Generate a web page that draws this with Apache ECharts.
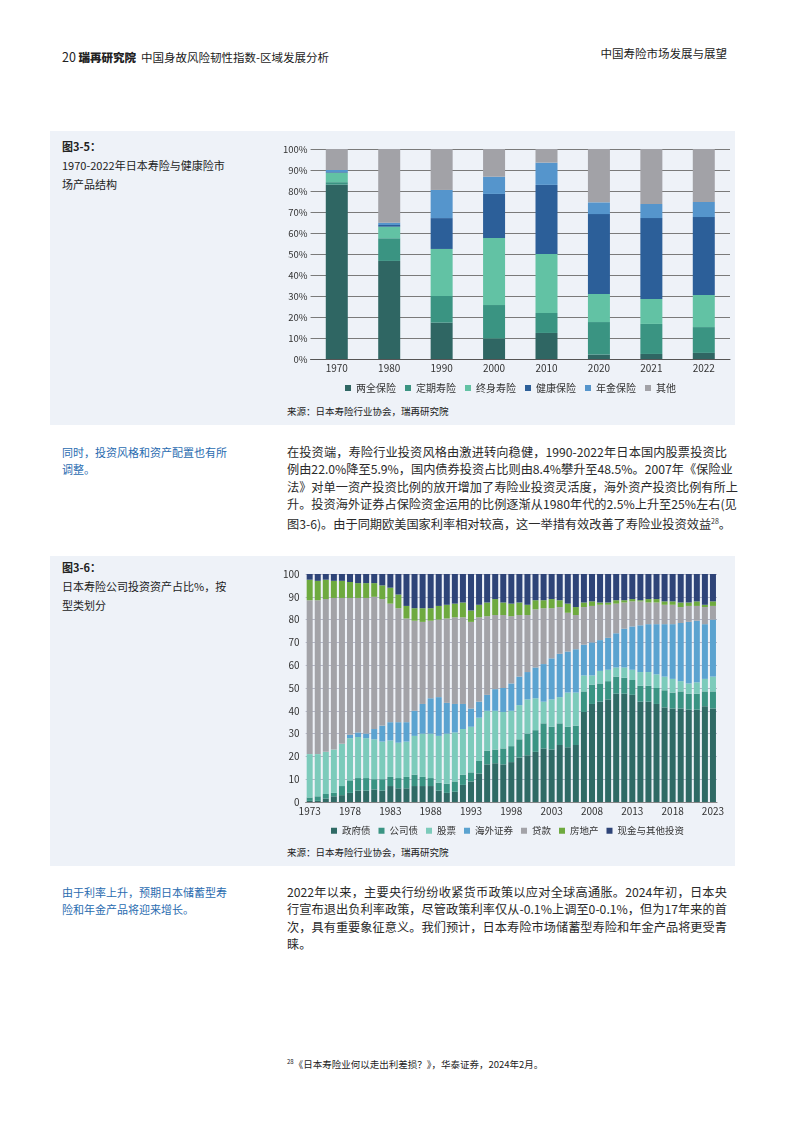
<!DOCTYPE html>
<html><head><meta charset="utf-8">
<script src="https://cdn.jsdelivr.net/npm/echarts@6/dist/echarts.min.js"></script>
<style>
body{margin:0;background:#fff;font-family:"Noto Sans CJK SC","Noto Sans",sans-serif;color:#333;}
#page{position:relative;width:793px;height:1122px;overflow:hidden;}
.abs{position:absolute;white-space:nowrap;}
.panel{position:absolute;left:50px;width:685px;background:#eef2f8;}
.hdr{font-size:11.5px;color:#222;}
.side{font-size:11px;color:#2a6cb0;line-height:17.3px;}
.ttl{font-size:11px;color:#222;line-height:19px;}
.body{position:absolute;left:287px;width:440px;font-size:12.2px;line-height:17.3px;color:#2a2a2a;}
.body div{text-align:justify;text-align-last:justify;white-space:nowrap;}
.body div.last{text-align-last:left;}
.src{font-size:9.5px;color:#222;}
</style></head>
<body><div id="page">
<div class="abs hdr" style="left:62px;top:47px;"><span style="font-size:12.5px">20</span> <b style="font-weight:900">瑞再研究院</b>&nbsp; 中国身故风险韧性指数-区域发展分析</div>
<div class="abs hdr" style="right:66px;top:45px;">中国寿险市场发展与展望</div>

<div class="panel" style="top:131px;height:294px;"></div>
<div class="abs ttl" style="left:62px;top:137px;"><b>图3-5：</b><br>1970-2022年日本寿险与健康险市<br>场产品结构</div>
<div id="c1" class="abs" style="left:280px;top:135px;width:455px;height:265px;"></div>
<div class="abs src" style="left:287px;top:404px;">来源：日本寿险行业协会，瑞再研究院</div>

<div class="abs side" style="left:62px;top:444px;">同时，投资风格和资产配置也有所<br>调整。</div>
<div class="body" style="top:444px;">
<div>在投资端，寿险行业投资风格由激进转向稳健，1990-2022年日本国内股票投资比</div>
<div>例由22.0%降至5.9%，国内债券投资占比则由8.4%攀升至48.5%。2007年《保险业</div>
<div>法》对单一资产投资比例的放开增加了寿险业投资灵活度，海外资产投资比例有所上</div>
<div>升。投资海外证券占保险资金运用的比例逐渐从1980年代的2.5%上升至25%左右(见</div>
<div class="last">图3-6)。由于同期欧美国家利率相对较高，这一举措有效改善了寿险业投资效益<sup style="font-size:7px">28</sup>。</div>
</div>

<div class="panel" style="top:556px;height:310px;"></div>
<div class="abs ttl" style="left:62px;top:558px;"><b>图3-6：</b><br>日本寿险公司投资资产占比%，按<br>型类划分</div>
<div id="c2" class="abs" style="left:280px;top:560px;width:455px;height:280px;"></div>
<div class="abs src" style="left:287px;top:845px;">来源：日本寿险行业协会，瑞再研究院</div>

<div class="abs side" style="left:62px;top:884px;">由于利率上升，预期日本储蓄型寿<br>险和年金产品将迎来增长。</div>
<div class="body" style="top:884px;">
<div>2022年以来，主要央行纷纷收紧货币政策以应对全球高通胀。2024年初，日本央</div>
<div>行宣布退出负利率政策，尽管政策利率仅从-0.1%上调至0-0.1%，但为17年来的首</div>
<div>次，具有重要象征意义。我们预计，日本寿险市场储蓄型寿险和年金产品将更受青</div>
<div class="last">睐。</div>
</div>

<div class="abs" style="left:287px;top:1057px;font-size:9.5px;color:#222;"><sup style="font-size:6px">28</sup>《日本寿险业何以走出利差损？》，华泰证券，2024年2月。</div>
</div>

<script>
// ---- Figure 3-5 data (%)
const years1 = ['1970','1980','1990','2000','2010','2020','2021','2022'];
const endowment = [83.0, 46.7, 17.3, 9.7, 12.4, 2.1, 2.4, 2.9];
const termLife  = [1.2, 10.8, 12.7, 16.0, 9.5, 15.5, 14.3, 12.3];
const wholeLife = [4.5, 5.5, 22.4, 31.9, 28.1, 13.4, 11.9, 15.3];
const health    = [0.3, 0.8, 14.7, 21.0, 32.9, 38.0, 38.5, 37.1];
const annuity   = [1.0, 1.1, 13.4, 8.2, 10.6, 5.6, 6.7, 7.2];
const others1   = [10.0, 35.1, 19.5, 13.2, 6.5, 25.4, 26.2, 25.2];
const names1 = ['两全保险','定期寿险','终身寿险','健康保险','年金保险','其他'];
const yTicks1 = ['0%','10%','20%','30%','40%','50%','60%','70%','80%','90%','100%'];

// ---- Figure 3-6 data (%)
const years2 = [];
for (let y = 1973; y <= 2023; y++) years2.push(String(y));
const govBonds = [0.5,0.5,1.5,2.5,3,4,5,5,5.5,5,7,6,6,7,7,7,5,4,4.5,7.5,9,12.5,16.5,17,16.5,17.5,19.5,20.5,22,23.5,23,25,24,25,39.5,43,44,45,47.5,47.5,47,44,44,43,41.5,41,41,40.5,40.5,42,41];
const corpBonds = [1.5,2,2,1.5,4,5.5,5.5,5.5,4.5,5,4,4.5,5,5,4,3.5,3.5,4,4.5,4.5,4,5.5,6,6,7,7,8,9.5,9.5,11,10,9.5,9,8.5,9,8.5,8,8,7.5,7,6.5,7,7,7,7.5,7,7.5,7,7,6.5,7.5];
const stocks = [19,18.5,18.5,19,18.5,18.5,18,17.5,17.5,16.5,16,15.5,15.5,17,19,19.5,20.5,22,21.5,20,20,19,17.5,17,16,15.5,15,15,14,9.5,12,11.5,15,14.5,7,4,5.5,5,4,4.5,4.5,6,6,6,6,6,4.5,4.5,5,5.5,6.5];
const foreignSec = [0,0,0,0,0,1.5,2,2,4.5,7,8,9,8.5,11,13,15.5,17,13.5,12.5,11,8,7,7,9.5,10.5,12,12.5,12,13.5,16.5,18,19,18,19,13.5,14.5,13.5,14,15,17,19,20.5,21,22,23,24,25.5,27,27,24,25];
const loans = [67.5,67.5,67,66.5,64,60,59,59.5,58,55.5,52,50,45.5,39.5,36,34,34,37,38,38,38,37,34.5,32.5,32,29.5,27,25,25.5,24.5,22,20.5,17,15,16.5,16,15.5,14.5,13,11.5,11,10.5,9.5,9.5,8.5,8.5,7,7,6.5,7.5,6];
const realEstate = [9,8.5,8.5,7.5,7.5,7,6.5,6.5,6,6,7,6,5.5,5.5,6,5.5,6,6,6,6.5,5,5.5,6,7,5.5,5.5,5.5,4.5,4,3.5,4,3,4,3.5,2,2,1,1,1.5,1,1,0.5,1.5,1.5,1.5,1.5,2,1.5,2,1,2];
const cashOther = [2.5,3,2.5,3,3,3.5,4,4,4,5,6,9,14,15,15,15,14,13.5,13,12.5,16,13.5,12.5,11,12.5,13,12.5,13.5,11.5,11.5,11,11.5,13,14.5,12.5,12,12.5,12.5,11.5,11.5,11,11.5,11,11,12,12,12.5,12.5,12,13.5,12];
const names2 = ['政府债','公司债','股票','海外证券','贷款','房地产','现金与其他投资'];

const font = '"Noto Sans CJK SC","Noto Sans",sans-serif';
const colors1 = ['#2f6663','#3a9482','#62c2a4','#2c5f99','#5595cc','#a2a2a7'];
const colors2 = ['#2f6a65','#3a9483','#7ccbbb','#5ba3d0','#a3a3a8','#6eaa3f','#2e4478'];

const c1 = echarts.init(document.getElementById('c1'));
const s1 = [endowment, termLife, wholeLife, health, annuity, others1];
c1.setOption({
  animation:false,
  color: colors1,
  textStyle:{fontFamily:font},
  grid:{left:29,right:5,top:14,height:210},
  legend:{left:60,top:243,itemWidth:6,itemHeight:6,itemGap:9,icon:'rect',
    textStyle:{fontSize:10,color:'#333',fontFamily:font},data:names1},
  xAxis:{type:'category',data:years1,
    axisLine:{lineStyle:{color:'#555'}},axisTick:{show:false},
    axisLabel:{fontSize:10,color:'#333',margin:4}},
  yAxis:{type:'value',min:0,max:100,interval:10,
    axisLabel:{fontSize:9.5,color:'#333',margin:3,formatter:v=>yTicks1[v/10]},
    splitLine:{lineStyle:{color:'#7a7a7a',width:1}},
    axisLine:{show:false},axisTick:{show:false}},
  series: s1.map((d,i)=>({name:names1[i],type:'bar',stack:'a',data:d,barWidth:22}))
});

const c2 = echarts.init(document.getElementById('c2'));
const s2 = [govBonds, corpBonds, stocks, foreignSec, loans, realEstate, cashOther];
c2.setOption({
  animation:false,
  color: colors2,
  textStyle:{fontFamily:font},
  grid:{left:25,right:18,top:14,height:228},
  legend:{left:46,top:261,itemWidth:6,itemHeight:6,itemGap:8,icon:'rect',
    textStyle:{fontSize:9.5,color:'#333',fontFamily:font},data:names2},
  xAxis:{type:'category',data:years2,
    axisLine:{lineStyle:{color:'#888'}},axisTick:{show:false},
    axisLabel:{fontSize:10,color:'#333',margin:4,interval:4}},
  yAxis:{type:'value',min:0,max:100,interval:10,
    axisLabel:{fontSize:10,color:'#333',margin:6},
    splitLine:{lineStyle:{color:'#b4b7c8',width:1}},
    axisLine:{show:false},axisTick:{show:false}},
  series: s2.map((d,i)=>({name:names2[i],type:'bar',stack:'a',data:d,barWidth:6}))
});
</script>
</body></html>
